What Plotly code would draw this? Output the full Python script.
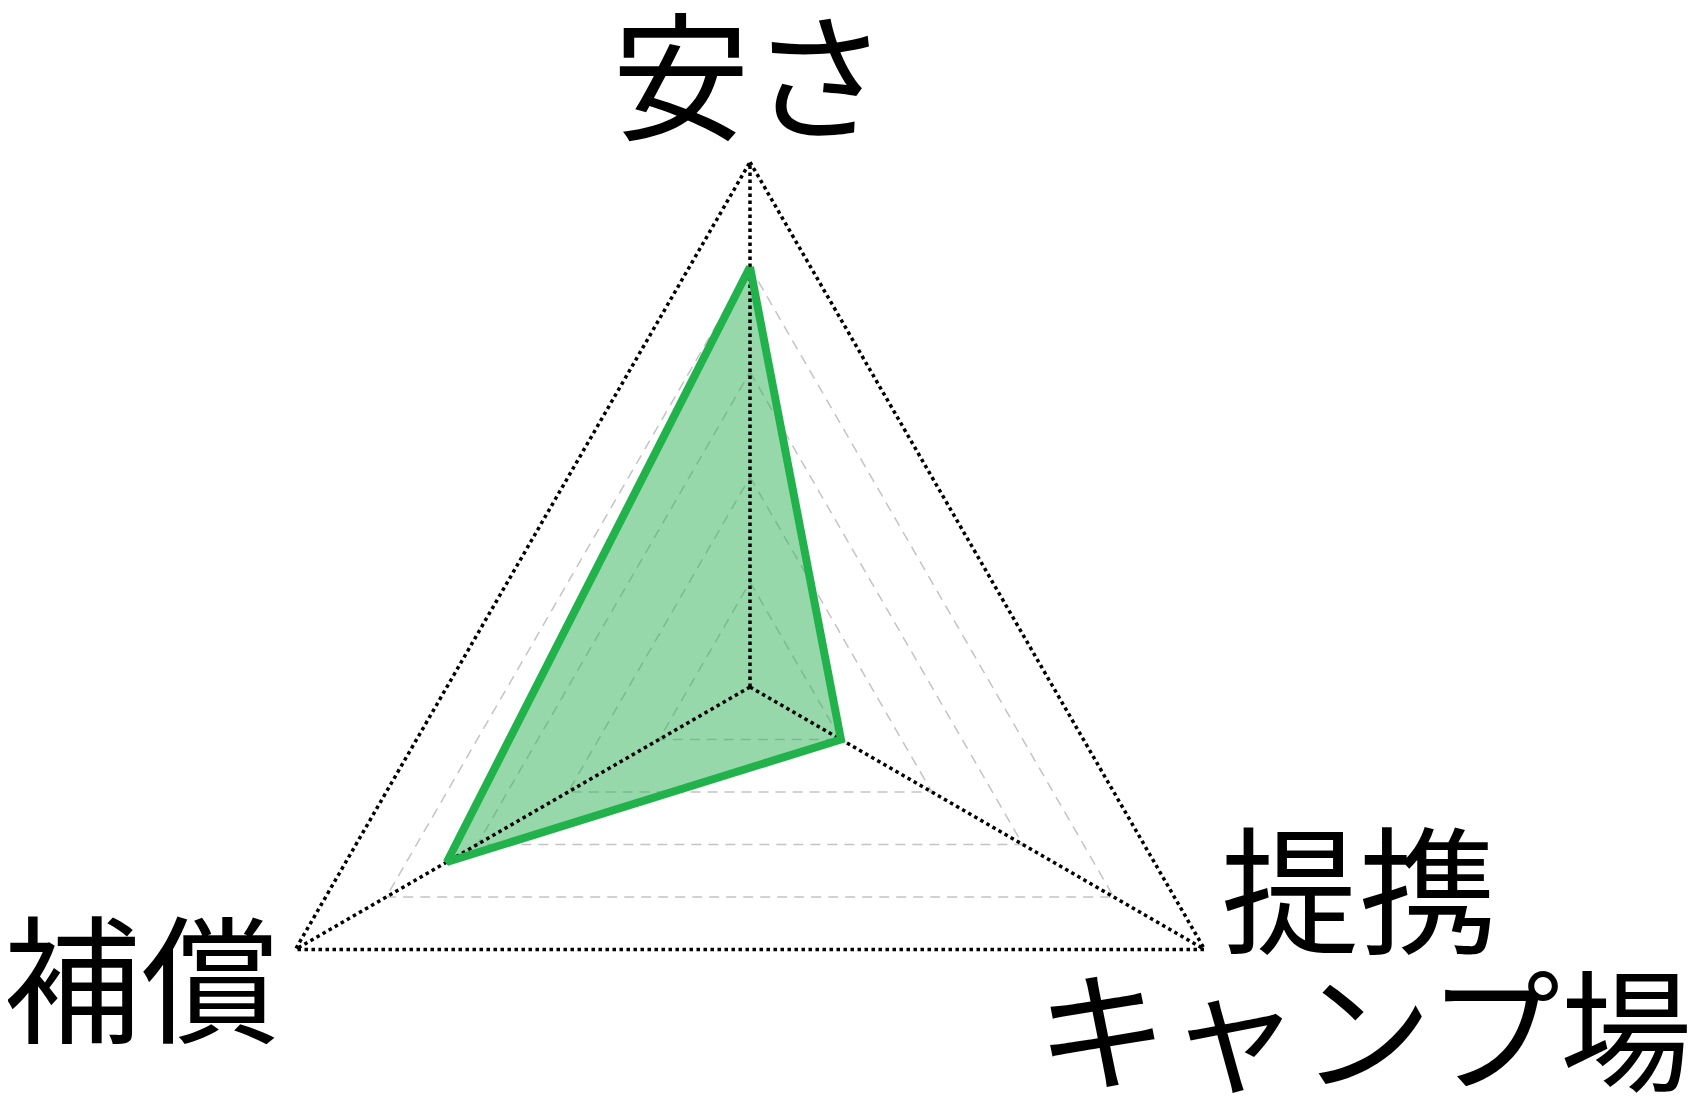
#radar chart with 3 axes, drawn on plain xy axes so the triangle keeps its size
import numpy as np
import plotly.graph_objects as go

categories = ["安さ", "提携キャンプ場", "補償"]
values = [12, 3, 10]
r_max = 15
grid_levels = [3, 6, 9, 12]

#angles clockwise from the top
angles = np.deg2rad(90 - np.arange(len(categories)) * 360 / len(categories))

def polygon(r):
    r = np.asarray(r, dtype=float)
    xs = r * np.cos(angles)
    ys = r * np.sin(angles)
    return np.append(xs, xs[0]), np.append(ys, ys[0])

fig = go.Figure()

#dashed inner grid
for lv in grid_levels:
    gx, gy = polygon([lv] * len(categories))
    fig.add_trace(go.Scatter(x=gx, y=gy, mode="lines", hoverinfo="skip",
                             line=dict(color="#c4c4c4", width=1.5, dash="10px,7px")))

#filled area
dx, dy = polygon(values)
fig.add_trace(go.Scatter(x=dx, y=dy, mode="lines", fill="toself",
                         fillcolor="rgba(46,178,84,0.5)", line=dict(width=0),
                         hoverinfo="skip"))

#outer frame and spokes, dotted black
ox, oy = polygon([r_max] * len(categories))
fig.add_trace(go.Scatter(x=ox, y=oy, mode="lines", hoverinfo="skip",
                         line=dict(color="black", width=3.5, dash="3.5px,3.5px")))
for a in angles:
    fig.add_trace(go.Scatter(x=[0, r_max * np.cos(a)], y=[0, r_max * np.sin(a)],
                             mode="lines", hoverinfo="skip",
                             line=dict(color="black", width=3.5, dash="3.5px,3.5px")))

#data outline
fig.add_trace(go.Scatter(x=dx, y=dy, mode="lines", name="score",
                         line=dict(color="#22b24c", width=8)))

kanji_font = dict(family="Noto Sans CJK JP", size=138, color="black")
kana_font = dict(family="Noto Sans CJK JP", size=132, color="black")
fig.add_annotation(x=0.0, y=17.67, text="安さ", showarrow=False, font=kanji_font)
fig.add_annotation(x=17.4, y=-5.6, text="提携", showarrow=False, font=kanji_font)
fig.add_annotation(x=17.55, y=-9.62, text="キャンプ場", showarrow=False, font=kana_font)
fig.add_annotation(x=-17.4, y=-8.13, text="補償", showarrow=False, font=kanji_font)

#page has an 8px body margin, so the centre sits at 742/679 inside the figure
fig.update_layout(width=1695, height=1103, showlegend=False,
                  margin=dict(l=0, r=0, t=0, b=0),
                  paper_bgcolor="white", plot_bgcolor="white")
fig.update_xaxes(range=[-742 / 35, 953 / 35], visible=False)
fig.update_yaxes(range=[-424 / 35, 679 / 35], visible=False)

fig.write_html("out.html")
